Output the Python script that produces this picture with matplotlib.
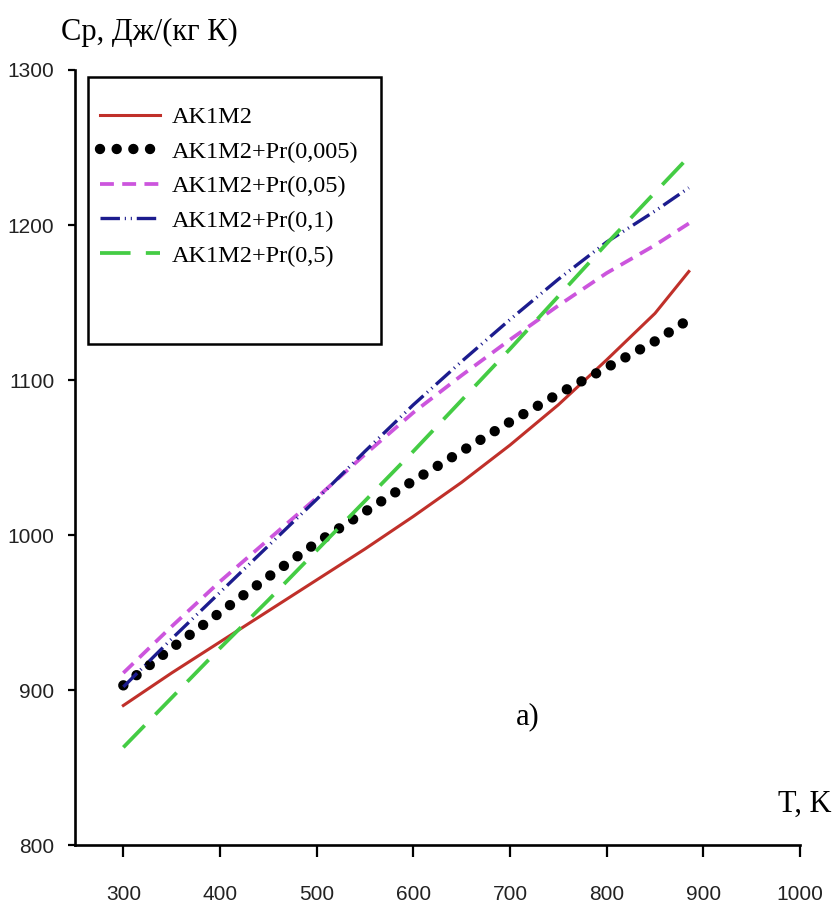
import matplotlib
matplotlib.use("Agg")
import matplotlib.pyplot as plt
from matplotlib import font_manager
from matplotlib.patches import Rectangle

# temperature grid, K
T = [300, 350, 400, 450, 500, 550, 600, 650, 700, 750, 800, 850, 885]

# heat capacity, J/(kg K)
cp_base = [890, 911, 931, 951, 971, 991, 1012, 1034, 1058, 1084, 1113, 1143, 1170]
cp_pr0005 = [903, 927, 950, 973, 995, 1015, 1035, 1054, 1073, 1091, 1108, 1125, 1139]
cp_pr005 = [911, 941, 970, 997, 1024, 1052, 1079, 1103, 1126, 1148, 1169, 1187, 1201]
cp_pr01 = [902, 933, 963, 993, 1023, 1054, 1084, 1112, 1139, 1165, 1189, 1209, 1224]
cp_pr05 = [863, 895, 927, 958, 990, 1022, 1054, 1087, 1120, 1154, 1188, 1221, 1244]

labels = ["AK1M2", "AK1M2+Pr(0,005)", "AK1M2+Pr(0,05)", "AK1M2+Pr(0,1)", "AK1M2+Pr(0,5)"]

installed = {f.name for f in font_manager.fontManager.ttflist}
tick_font = "Liberation Sans Narrow" if "Liberation Sans Narrow" in installed else "Liberation Sans"
tick_size = 16 if tick_font == "Liberation Sans Narrow" else 15
serif = "Liberation Serif"

plt.rcParams["lines.scale_dashes"] = False

fig = plt.figure(figsize=(8.36, 9.05), dpi=100)
ax = fig.add_axes([75 / 836, 60 / 905, 725 / 836, 775 / 905])

ax.plot(T, cp_base, color="#c0302a", lw=2.2, label=labels[0])
ax.plot(T, cp_pr0005, color="black", lw=7.5, linestyle=(0, (0.01, 12.0)),
        dash_capstyle="round", label=labels[1])
ax.plot(T, cp_pr005, color="#cc55dd", lw=2.7, linestyle=(0, (10, 6)), label=labels[2])
ax.plot(T, cp_pr01, color="#1c1c8e", lw=2.4,
        linestyle=(0, (14, 3.5, 0.8, 3.5, 0.8, 3.5)), label=labels[3])
ax.plot(T, cp_pr05, color="#44cc44", lw=2.7, linestyle=(0, (22, 11)), label=labels[4])

ax.set_xlim(250, 1000)
ax.set_ylim(800, 1300)
ax.set_xticks(range(300, 1001, 100))
ax.set_yticks(range(800, 1301, 100))

for side in ["top", "right"]:
    ax.spines[side].set_visible(False)
for side in ["left", "bottom"]:
    ax.spines[side].set_linewidth(1.9)

ax.tick_params(axis="x", direction="out", length=8.6, width=1.6, pad=20)
ax.tick_params(axis="y", direction="out", length=5, width=1.6, pad=10)
for lbl in ax.get_xticklabels() + ax.get_yticklabels():
    lbl.set_fontfamily(tick_font)
    lbl.set_fontsize(tick_size)
    lbl.set_color("#222222")

ax.text(0.103, 1.048, "Cp, Дж/(кг К)", transform=ax.transAxes, fontfamily=serif,
        fontsize=22, ha="center", va="center")
ax.text(1.007, 0.052, "T, K", transform=ax.transAxes, fontfamily=serif,
        fontsize=22, ha="center", va="center")
ax.text(718, 883, "a)", fontfamily=serif, fontsize=22, ha="center", va="center")

# legend with its own frame
leg = ax.legend(loc="upper left", bbox_to_anchor=(100 / 836, (905 - 106) / 905),
                bbox_transform=fig.transFigure, frameon=False, borderpad=0,
                borderaxespad=0, handlelength=2.45, handletextpad=0.5,
                labelspacing=0.52, prop={"family": serif, "size": 17.5})
fig.add_artist(Rectangle((88 / 836, (905 - 344) / 905), 293 / 836, 267 / 905,
                         transform=fig.transFigure, fill=False, lw=1.8, color="black"))

fig.savefig("out.png", dpi=100)
